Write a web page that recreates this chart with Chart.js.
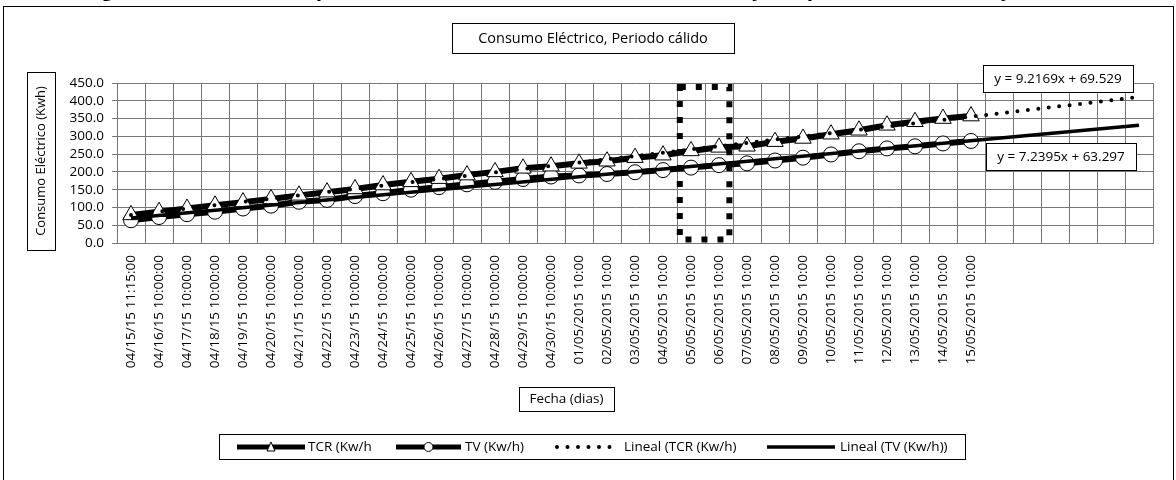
<!DOCTYPE html>
<html>
<head>
<meta charset="utf-8">
<script src="https://cdn.jsdelivr.net/npm/chart.js@4/dist/chart.umd.min.js"></script>
<style>
  html, body { margin: 0; padding: 0; background: #fff; }
  #wrap { width: 1176px; height: 480px; }
</style>
</head>
<body>
<div id="wrap"><canvas id="myChart1" width="1176" height="480"></canvas></div>
<script>
const fechas = [
  "04/15/15 11:15:00", "04/16/15 10:00:00", "04/17/15 10:00:00", "04/18/15 10:00:00",
  "04/19/15 10:00:00", "04/20/15 10:00:00", "04/21/15 10:00:00", "04/22/15 10:00:00",
  "04/23/15 10:00:00", "04/24/15 10:00:00", "04/25/15 10:00:00", "04/26/15 10:00:00",
  "04/27/15 10:00:00", "04/28/15 10:00:00", "04/29/15 10:00:00", "04/30/15 10:00:00",
  "01/05/2015 10:00", "02/05/2015 10:00", "03/05/2015 10:00", "04/05/2015 10:00",
  "05/05/2015 10:00", "06/05/2015 10:00", "07/05/2015 10:00", "08/05/2015 10:00",
  "09/05/2015 10:00", "10/05/2015 10:00", "11/05/2015 10:00", "12/05/2015 10:00",
  "13/05/2015 10:00", "14/05/2015 10:00", "15/05/2015 10:00",
];
// periodos de pronostico de las lineas de tendencia (sin etiqueta)
const pronostico = ["", "", "", "", "", ""];

const tcr = [79, 88, 97, 106, 115, 124, 134, 143, 152, 163, 172, 181, 191, 200, 210, 216,
  224, 230, 240, 247, 259, 269, 272, 285, 294, 306, 317, 331, 341, 350, 357];
const tv = [64, 73, 81, 88, 97, 105, 116, 121, 132, 140, 150, 157, 165, 172, 180, 187,
  190, 194, 199, 205, 212, 219, 224, 232, 240, 249, 258, 266, 272, 280, 287];

// extremos de las lineas de tendencia (primer y ultimo periodo)
const tendTCR = [78.7, 410.6];
const tendTV = [70.5, 331.2];
const ecuaciones = ["y = 9.2169x + 69.529", "y = 7.2395x + 63.297"];

const yTicks = [0, 50, 100, 150, 200, 250, 300, 350, 400, 450];
const series = ["TCR (Kw/h", "TV (Kw/h)", "Lineal (TCR (Kw/h)", "Lineal (TV (Kw/h))"];

const titulo = "Figura 12. Gráfica comparativa del consumo eléctrico entre TCR y TV, periodo cálido (Mayo, 2015)";
const tituloGrafica = "Consumo Eléctrico, Periodo cálido";
const tituloY = "Consumo Eléctrico (Kwh)";
const tituloX = "Fecha (dias)";

// dias resaltados con el recuadro punteado (05/05 y 06/05)
const resaltado = [20, 21];

const labels = fechas.concat(pronostico);
const n = labels.length;

function lineaTendencia(ext) {
  const arr = new Array(n).fill(null);
  arr[0] = ext[0];
  arr[n - 1] = ext[1];
  return arr;
}

const FONT = '"Open Sans", sans-serif';

function caja(ctx, x, y, w, h) {
  ctx.save();
  ctx.fillStyle = "#fff";
  ctx.fillRect(x, y, w, h);
  ctx.strokeStyle = "#000";
  ctx.lineWidth = 1;
  ctx.strokeRect(Math.round(x) + 0.5, Math.round(y) + 0.5, Math.round(w), Math.round(h));
  ctx.restore();
}

const marco = {
  id: "marco",
  beforeDraw(chart) {
    const ctx = chart.ctx;
    ctx.save();
    ctx.fillStyle = "#fff";
    ctx.fillRect(0, 0, chart.width, chart.height);
    // titulo de la figura (cortado en la parte superior)
    ctx.fillStyle = "#000";
    ctx.font = "bold 21px " + FONT;
    ctx.textAlign = "center";
    ctx.textBaseline = "alphabetic";
    ctx.fillText(titulo, 588, -4.5);
    // borde exterior
    ctx.strokeStyle = "#000";
    ctx.lineWidth = 1;
    ctx.strokeRect(3.5, 6.5, 1170, 500);
    ctx.restore();

    // titulo de la grafica
    caja(ctx, 452, 23, 282, 30);
    ctx.save();
    ctx.fillStyle = "#000";
    ctx.font = "14.5px " + FONT;
    ctx.textAlign = "center";
    ctx.textBaseline = "middle";
    ctx.fillText(tituloGrafica, 593, 38.5);
    ctx.restore();

    // titulo eje y
    caja(ctx, 27, 72, 28, 178);
    ctx.save();
    ctx.translate(41.5, 161);
    ctx.rotate(-Math.PI / 2);
    ctx.fillStyle = "#000";
    ctx.font = "13px " + FONT;
    ctx.textAlign = "center";
    ctx.textBaseline = "middle";
    ctx.fillText(tituloY, 0, 0);
    ctx.restore();

    // titulo eje x
    caja(ctx, 519, 387, 95, 24);
    ctx.save();
    ctx.fillStyle = "#000";
    ctx.font = "13.5px " + FONT;
    ctx.textAlign = "center";
    ctx.textBaseline = "middle";
    ctx.fillText(tituloX, 566.5, 399.5);
    ctx.restore();

    // leyenda
    const ly = 447;
    caja(ctx, 219, 434, 746, 25);
    ctx.save();
    ctx.strokeStyle = "#000";
    ctx.fillStyle = "#000";
    ctx.font = "13.5px " + FONT;
    ctx.textBaseline = "middle";
    // TCR
    ctx.lineWidth = 5;
    ctx.beginPath(); ctx.moveTo(237, ly); ctx.lineTo(305, ly); ctx.stroke();
    ctx.lineWidth = 1;
    ctx.fillStyle = "#fff";
    ctx.beginPath(); ctx.moveTo(271, ly - 5); ctx.lineTo(275, ly + 4); ctx.lineTo(267, ly + 4); ctx.closePath();
    ctx.fill(); ctx.stroke();
    ctx.fillStyle = "#000";
    ctx.fillText(series[0], 308, ly);
    // TV
    ctx.lineWidth = 5;
    ctx.beginPath(); ctx.moveTo(396, ly); ctx.lineTo(461, ly); ctx.stroke();
    ctx.lineWidth = 1;
    ctx.fillStyle = "#fff";
    ctx.beginPath(); ctx.arc(428.5, ly, 4.5, 0, Math.PI * 2); ctx.fill(); ctx.stroke();
    ctx.fillStyle = "#000";
    ctx.fillText(series[1], 465, ly);
    // Lineal TCR (punteada)
    ctx.lineWidth = 4;
    ctx.lineCap = "round";
    ctx.setLineDash([0, 10.5]);
    ctx.beginPath(); ctx.moveTo(557, ly); ctx.lineTo(620, ly); ctx.stroke();
    ctx.setLineDash([]);
    ctx.lineCap = "butt";
    ctx.fillText(series[2], 624, ly);
    // Lineal TV
    ctx.lineWidth = 3.5;
    ctx.beginPath(); ctx.moveTo(767, ly); ctx.lineTo(835, ly); ctx.stroke();
    ctx.fillText(series[3], 840, ly);
    ctx.restore();
  },
  afterDraw(chart) {
    const ctx = chart.ctx;
    const xs = chart.scales.x;
    const ys = chart.scales.y;
    const w = xs.getPixelForValue(1) - xs.getPixelForValue(0);
    // recuadro punteado
    const x0 = xs.getPixelForValue(resaltado[0]) - 0.4 * w;
    const x1 = xs.getPixelForValue(resaltado[1]) + 0.37 * w;
    const y0 = ys.getPixelForValue(439);
    const y1 = ys.getPixelForValue(10);
    ctx.save();
    ctx.strokeStyle = "#000";
    ctx.lineWidth = 6;
    ctx.setLineDash([6, 10]);
    ctx.strokeRect(x0, y0, x1 - x0, y1 - y0);
    ctx.restore();

    // ecuaciones
    ctx.save();
    caja(ctx, 983, 65, 150, 27);
    caja(ctx, 986, 143, 150, 27);
    ctx.fillStyle = "#000";
    ctx.font = "13.5px " + FONT;
    ctx.textAlign = "center";
    ctx.textBaseline = "middle";
    ctx.fillText(ecuaciones[0], 1058, 79);
    ctx.fillText(ecuaciones[1], 1061, 157);
    ctx.restore();
  },
};

const ctx = document.getElementById("myChart1").getContext("2d");

const data = {
  labels: labels,
  datasets: [
    {
      label: series[2],
      data: lineaTendencia(tendTCR),
      borderColor: "#000",
      borderWidth: 4,
      borderDash: [0, 10.5],
      borderCapStyle: "round",
      pointRadius: 0,
      spanGaps: true,
      order: 0,
    },
    {
      label: series[3],
      data: lineaTendencia(tendTV),
      borderColor: "#000",
      borderWidth: 3.5,
      pointRadius: 0,
      spanGaps: true,
      order: 0,
    },
    {
      label: series[0],
      data: tcr,
      borderColor: "#000",
      borderWidth: 6,
      pointStyle: "triangle",
      pointRadius: 9.5,
      pointBorderWidth: 1,
      pointBorderColor: "#000",
      pointBackgroundColor: "#fff",
      order: 1,
    },
    {
      label: series[1],
      data: tv,
      borderColor: "#000",
      borderWidth: 6,
      pointStyle: "circle",
      pointRadius: 7.5,
      pointBorderWidth: 1,
      pointBorderColor: "#000",
      pointBackgroundColor: "#fff",
      order: 2,
    },
  ],
};

const config = {
  type: "line",
  data: data,
  options: {
    responsive: false,
    animation: false,
    devicePixelRatio: 1,
    layout: { padding: { top: 83, right: 23, left: 0, bottom: 0 } },
    plugins: {
      legend: { display: false },
      title: { display: false },
      tooltip: { enabled: false },
    },
    scales: {
      x: {
        type: "category",
        offset: true,
        afterFit: (s) => { s.height = 237; },
        grid: { offset: true, color: "#777", drawTicks: false },
        border: { color: "#777" },
        ticks: {
          autoSkip: false,
          minRotation: 90,
          maxRotation: 90,
          padding: 12,
          color: "#000",
          font: { family: FONT, size: 13.5 },
        },
      },
      y: {
        min: yTicks[0],
        max: yTicks[yTicks.length - 1],
        afterFit: (s) => { s.width = 117; },
        afterBuildTicks: (s) => { s.ticks = yTicks.map((v) => ({ value: v })); },
        grid: { color: "#777", tickLength: 5 },
        border: { color: "#777" },
        ticks: {
          autoSkip: false,
          padding: 8,
          color: "#000",
          font: { family: FONT, size: 13.5, lineHeight: 1 },
          callback: (v) => Number(v).toFixed(1),
        },
      },
    },
  },
  plugins: [marco],
};

const myChart1 = new Chart(ctx, config);
</script>
</body>
</html>
